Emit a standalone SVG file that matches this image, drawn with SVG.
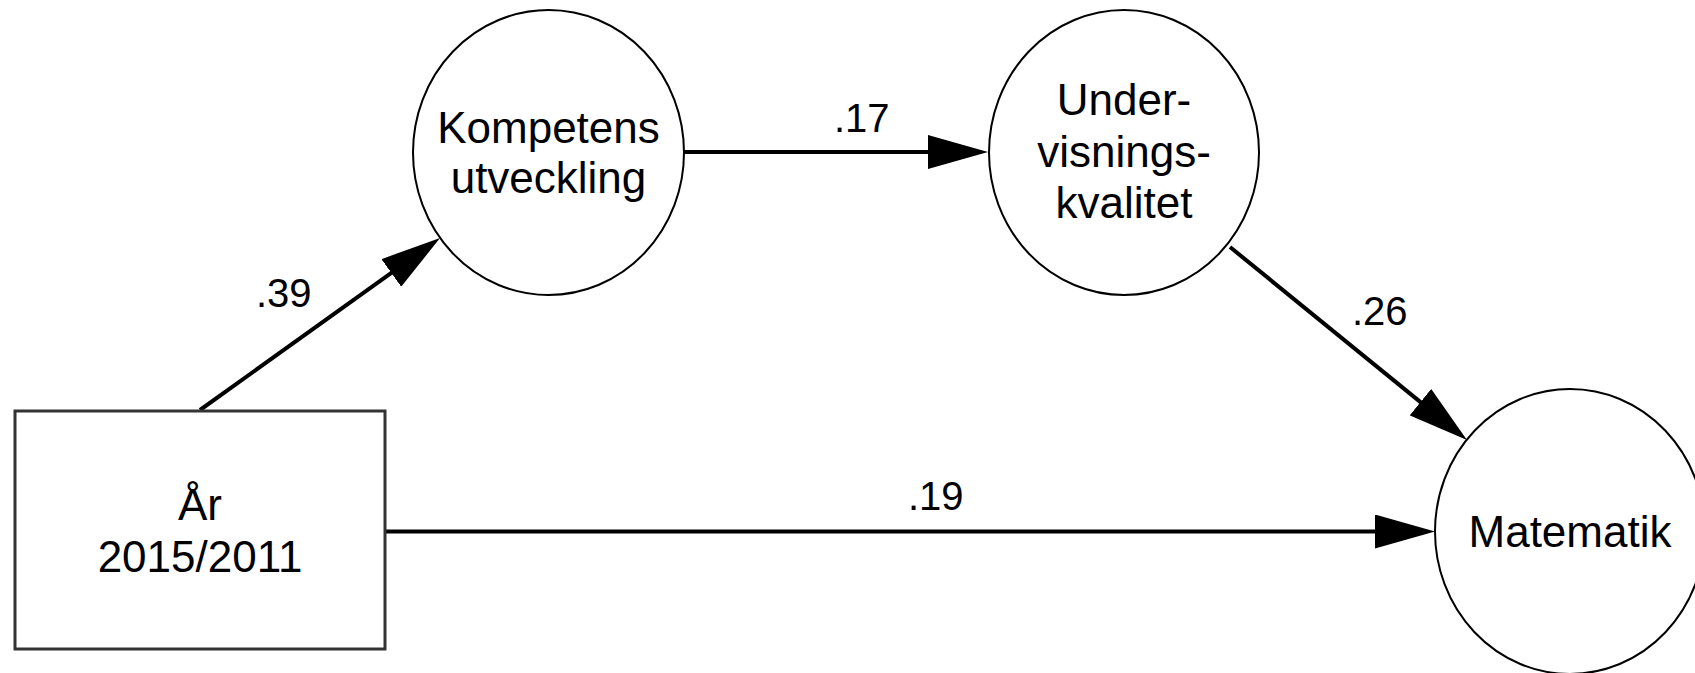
<svg xmlns="http://www.w3.org/2000/svg" width="1695" height="673" viewBox="0 0 1695 673">
<style>
.node{fill:#fff;stroke:#000;stroke-width:2}
.box{fill:#fff;stroke:#333;stroke-width:3}
.t{font-family:"Liberation Sans",Arial,sans-serif;font-size:44px;fill:#000;text-anchor:middle}
.lbl{font-family:"Liberation Sans",Arial,sans-serif;font-size:40px;fill:#000}
.edge{stroke:#000;stroke-width:4;fill:none;marker-end:url(#arr)}
</style>
<defs>
<marker id="arr" markerUnits="userSpaceOnUse" markerWidth="60" markerHeight="34" refX="10" refY="17" orient="auto" viewBox="0 0 60 34">
<path d="M0,0 L60,17 L0,34 z" fill="#000"/>
</marker>
</defs>
<rect width="1695" height="673" fill="#fff"/>
<g id="connectors">
<line class="edge" x1="200" y1="410" x2="399.4" y2="267.1"/>
<line class="edge" x1="684" y1="152" x2="938" y2="152"/>
<line class="edge" x1="1230" y1="247" x2="1428.2" y2="408.4"/>
<line class="edge" x1="385" y1="531.5" x2="1385" y2="531.5"/>
<text class="lbl" x="256" y="307">.39</text>
<text class="lbl" x="834" y="132">.17</text>
<text class="lbl" x="1352" y="325">.26</text>
<text class="lbl" x="908" y="510">.19</text>
</g>
<g id="node-ar">
<rect class="box" x="15" y="411" width="370" height="238"/>
<text class="t" x="200" y="520">År</text>
<text class="t" x="200" y="572">2015/2011</text>
</g>
<g id="node-kompetens">
<ellipse class="node" cx="548.5" cy="152.5" rx="135.5" ry="142.5"/>
<text class="t" x="548.5" y="143">Kompetens</text>
<text class="t" x="548.5" y="193">utveckling</text>
</g>
<g id="node-undervisning">
<ellipse class="node" cx="1124" cy="152.5" rx="135" ry="142.5"/>
<text class="t" x="1124" y="115">Under-</text>
<text class="t" x="1124" y="167">visnings-</text>
<text class="t" x="1124" y="218">kvalitet</text>
</g>
<g id="node-matematik">
<ellipse class="node" cx="1570" cy="531.5" rx="135" ry="142.5"/>
<text class="t" x="1570" y="547">Matematik</text>
</g>
</svg>
